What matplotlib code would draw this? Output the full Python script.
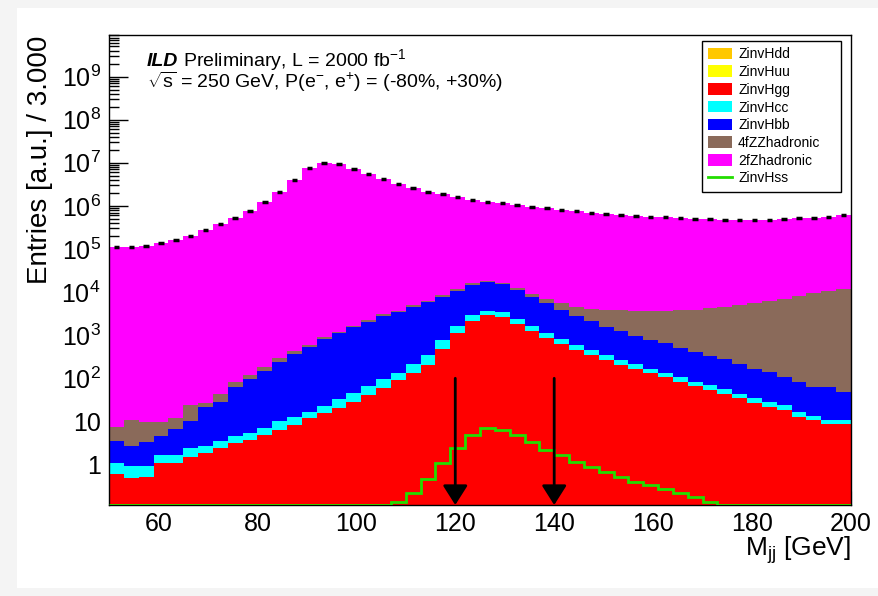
import numpy as np
import matplotlib
matplotlib.use("Agg")
import matplotlib.pyplot as plt
from matplotlib.patches import Patch, Rectangle
from matplotlib.lines import Line2D
from matplotlib.ticker import LogLocator, NullFormatter

# M_jj binning: 50 bins of 3 GeV from 50 to 200
edges = np.arange(50, 201, 3)

# stacked components, read bin by bin off the plot (bottom -> top)
zinvhdd = [0.0] * 50
zinvhuu = [0.0] * 50
zinvhgg = [0.60, 0.49, 0.52, 1.07, 1.07, 1.52, 1.82, 2.38, 3.1, 3.7,
           4.84, 6.3, 8.25, 11.8, 15.9, 20.5, 28.6, 41, 58.6, 91,
           133, 204, 479, 1143, 2170, 2940, 2600, 1820, 1270, 875,
           625, 454, 347, 266, 204, 164, 131, 105, 83, 67,
           53.5, 43, 34, 27, 22, 18.4, 12.9, 10.8, 8.6, 8.6]
zinvhcc = [0.47, 0.44, 0.42, 0.59, 0.59, 0.86, 0.91, 1.19, 1.48, 1.59,
           2.3, 4.1, 4.2, 5.0, 6.9, 12.1, 16.3, 25, 36, 44,
           78, 150, 283, 465, 730, 760, 800, 557, 390, 268,
           178, 139, 107, 81, 62, 47, 33, 30, 22, 16,
           16.4, 12.4, 8.8, 7.2, 6.7, 5.6, 3.9, 2.8, 2.2, 2.2]
zinvhbb = [2.5, 1.75, 2.44, 2.92, 4.9, 8.0, 19.2, 24.6, 57.2, 89.5,
           143, 233, 348, 507, 780, 1074, 1480, 1990, 2740, 3260,
           4370, 5420, 7060, 9160, 11700, 13700, 12000, 8810, 6160, 4360,
           3040, 2195, 1650, 1230, 1005, 762, 610, 514, 408, 331,
           264, 220, 172, 128, 113, 85, 65, 50, 51, 37]
zz4f = [3.97, 8.1, 6.46, 5.26, 5.24, 13.6, 5.3, 15.0, 21.6, 22.6,
        36, 48, 70, 69, 91, 98, 109, 197, 330, 300,
        440, 510, 750, 840, 1380, 980, 1100, 1060, 1220, 1310,
        1650, 1800, 1890, 2330, 2510, 2670, 2814, 2990, 3270, 3494,
        3873, 4308, 4885, 5513, 6168, 6921, 8035, 9316, 10380, 11560]
zh2f = [1.13e5, 1.09e5, 1.19e5, 1.36e5, 1.64e5, 2.0e5, 2.72e5, 3.74e5, 5.32e5, 7.74e5,
        1.23e6, 2.07e6, 3.99e6, 7.57e6, 1.0e7, 9.38e6, 7.30e6, 5.50e6, 4.21e6, 3.27e6,
        2.60e6, 2.13e6, 1.86e6, 1.57e6, 1.37e6, 1.23e6, 1.13e6, 1.02e6, 9.49e5, 8.72e5,
        7.98e5, 7.45e5, 6.92e5, 6.45e5, 6.11e5, 5.79e5, 5.48e5, 5.39e5, 5.20e5, 4.93e5,
        4.85e5, 4.74e5, 4.66e5, 4.65e5, 4.73e5, 4.90e5, 5.08e5, 5.23e5, 5.42e5, 5.93e5]
# signal drawn on its own (not stacked)
zinvhss = [0] * 19 + [0.137, 0.222, 0.454, 1.07, 2.38, 4.71, 7.03, 6.42, 4.76, 3.27,
                      2.17, 1.62, 1.16, 0.889, 0.681, 0.521, 0.399, 0.335, 0.266, 0.215,
                      0.173, 0.137] + [0] * 9

names = ["ZinvHdd", "ZinvHuu", "ZinvHgg", "ZinvHcc", "ZinvHbb", "4fZZhadronic", "2fZhadronic"]
colors = ["#ffc800", "#ffff00", "#ff0000", "#00ffff", "#0000ff", "#8a6a5a", "#ff00ff"]
cut_lo, cut_hi = 120, 140

plt.rcParams["font.family"] = "Liberation Sans"
plt.rcParams["mathtext.fontset"] = "custom"
plt.rcParams["mathtext.rm"] = "Liberation Sans"
plt.rcParams["mathtext.it"] = "Liberation Sans:italic"
plt.rcParams["mathtext.bf"] = "Liberation Sans:bold"

fig = plt.figure(figsize=(8.79, 5.96), dpi=100, facecolor="#f4f4f4")
fig.patches.append(Rectangle((17/879, 8/596), 1, 1 - 16/596, transform=fig.transFigure,
                             facecolor="white", edgecolor="none", zorder=-10))
ax = fig.add_axes([109/879, 91/596, 742/879, 470/596])
ymin, ymax = 0.115, 9.2e9
ax.set_yscale("log")

cum = np.zeros(50)
for vals, c in zip([zinvhdd, zinvhuu, zinvhgg, zinvhcc, zinvhbb, zz4f, zh2f], colors):
    lo = np.maximum(cum, 1e-3)
    cum = cum + np.array(vals, dtype=float)
    ax.stairs(np.maximum(cum, 1e-3), edges, baseline=lo, fill=True,
              color=c, lw=0, zorder=2)

centers = 0.5 * (edges[1:] + edges[:-1])
ax.hlines(cum, centers - 0.55, centers + 0.55, colors="black", lw=2.5, zorder=4)

hss = np.array(zinvhss, dtype=float)
ax.stairs(np.where(hss > 0, hss, ymin), edges, baseline=None,
          color="#22dd00", lw=2, zorder=3)

for xc in [cut_lo, cut_hi]:
    ax.annotate("", xy=(xc, ymin), xytext=(xc, 100),
                arrowprops=dict(arrowstyle="-|>,head_length=0.6,head_width=0.38",
                                mutation_scale=20, color="black", lw=2,
                                shrinkA=0, shrinkB=0),
                zorder=5, annotation_clip=False)

ax.set_xlim(50, 200)
ax.set_ylim(ymin, ymax)
ax.set_xticks([60, 80, 100, 120, 140, 160, 180, 200])
ax.set_yticks([10.0**k for k in range(10)],
              ["1", "10"] + ["10$^{%d}$" % k for k in range(2, 10)])
ax.yaxis.set_minor_locator(LogLocator(base=10, subs=np.arange(2, 10), numticks=30))
ax.yaxis.set_minor_formatter(NullFormatter())
ax.tick_params(axis="both", which="both", direction="in", top=False, right=False)
ax.tick_params(axis="y", which="major", length=14, width=1, labelsize=18, pad=6)
ax.tick_params(axis="y", which="minor", length=7, width=1)
ax.tick_params(axis="x", which="major", length=10, labelsize=18, pad=5)
for s in ax.spines.values():
    s.set_linewidth(1)

fig.text(40/879, 1 - 36/596, "Entries [a.u.] / 3.000", rotation=90,
         ha="center", va="top", fontsize=20)
fig.text(851/879, 1 - 550/596, r"M$_{\mathrm{jj}}$ [GeV]", ha="right", va="center", fontsize=19)

fig.text(147/879, 1 - 65.7/596, "ILD", fontsize=14, fontweight="bold",
         style="italic", va="baseline")
fig.text(183/879, 1 - 65.7/596, r"Preliminary, L = 2000 fb$^{-1}$", fontsize=14, va="baseline")
fig.text(147/879, 1 - 88.3/596,
         r"$\sqrt{\mathrm{s}}$ = 250 GeV, P(e$^{-}$, e$^{+}$) = (-80%, +30%)",
         fontsize=14, va="baseline")

handles = [Patch(facecolor=c, edgecolor="none") for c in colors]
handles.append(Line2D([], [], color="#22dd00", lw=2))
leg = ax.legend(handles, names + ["ZinvHss"], loc="upper left",
                bbox_to_anchor=(702/879, 1 - 192/596, 139/879, 151/596),
                bbox_transform=fig.transFigure, mode="expand",
                fontsize=10, frameon=True, fancybox=False, edgecolor="black",
                framealpha=1, borderaxespad=0, borderpad=0.45, labelspacing=0.27,
                handlelength=1.7, handleheight=0.9, handletextpad=0.45)
leg.get_frame().set_linewidth(1)

fig.savefig("out.png", dpi=100, facecolor=fig.get_facecolor())
